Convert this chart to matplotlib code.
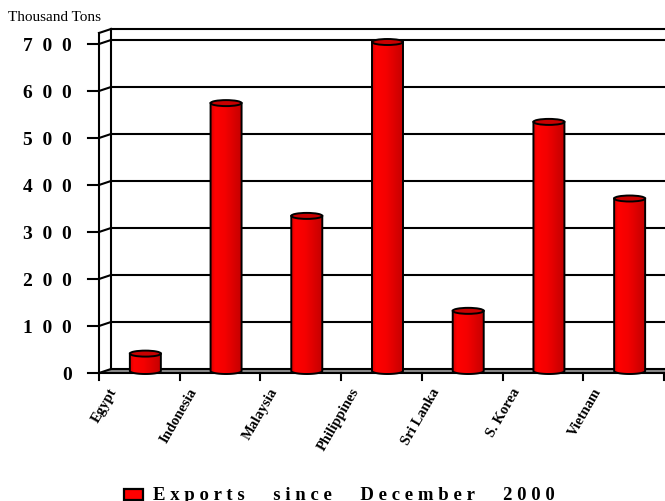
import numpy as np
import matplotlib
matplotlib.use("Agg")
import matplotlib.pyplot as plt
from matplotlib import transforms
from matplotlib.patches import Ellipse, PathPatch, Polygon, Rectangle
from matplotlib.path import Path
from matplotlib.colors import LinearSegmentedColormap

# Data
countries = ["Egypt", "Indonesia", "Malaysia", "Philippines", "Sri Lanka", "S. Korea", "Vietnam"]
exports = [37, 570, 330, 700, 128, 530, 367]
y_ticks = [0, 100, 200, 300, 400, 500, 600, 700]
y_tick_labels = ["0", "1  0  0", "2  0  0", "3  0  0", "4  0  0", "5  0  0", "6  0  0", "7  0  0"]
unit_label = "Thousand Tons"
series_label = "E x p o r t s      s i n c e      D e c e m b e r      2 0 0 0"

W, H, DPI = 665, 501, 100
SERIF = "Liberation Serif"
Y_MAX = 723.4

fig = plt.figure(figsize=(W / DPI, H / DPI), dpi=DPI)
fig.patch.set_facecolor("white")
ax = fig.add_axes([99 / W, 128 / H, 565 / W, 340 / H])
ax.set_xlim(0, len(countries))
ax.set_ylim(0, Y_MAX)
ax.axis("off")

# pixel -> data unit conversions for the 3-D depth effect
px_x = ax.transData.transform((1, 0))[0] - ax.transData.transform((0, 0))[0]
px_y = ax.transData.transform((0, 1))[1] - ax.transData.transform((0, 0))[1]
ddx, ddy = 12 / px_x, 4 / px_y
n = len(countries)

LW = 1.5
kw = dict(color="black", lw=LW, clip_on=False, solid_capstyle="projecting")

# floor
ax.add_patch(Polygon([(0, 0), (n, 0), (n + ddx, ddy), (ddx, ddy)], closed=True,
                     fc="#8c8c8c", ec="none", zorder=1, clip_on=False))

# back wall gridlines, top edge and left edge
for v in y_ticks + [Y_MAX]:
    ax.plot([ddx, n + ddx], [v + ddy, v + ddy], zorder=2, **kw)
ax.plot([ddx, ddx], [ddy, Y_MAX + ddy], zorder=2, **kw)

# side wall: front edge and connecting diagonals
ax.plot([0, 0], [0, Y_MAX], zorder=2, **kw)
for v in y_ticks + [Y_MAX]:
    ax.plot([0, ddx], [v, v + ddy], zorder=2, **kw)

# front category axis
ax.plot([0, n], [0, 0], zorder=2, **kw)

# y ticks and labels
tick_len = 11 / px_x
for v in y_ticks:
    ax.plot([-tick_len, 0], [v, v], zorder=2, **kw)
lab_tr = transforms.offset_copy(ax.transData, fig=fig, x=-27, y=-3, units="dots")
for v, lab in zip(y_ticks, y_tick_labels):
    ax.text(0, v, lab, transform=lab_tr, ha="right", va="center",
            fontsize=14, fontweight="bold", family=SERIF)

# x ticks
xtick_len = 7 / px_y
for i in range(n + 1):
    ax.plot([i, i], [0, -xtick_len], zorder=2, **kw)

# category labels
cat_tr = transforms.offset_copy(ax.transData, fig=fig, x=-20, y=-13, units="dots")
for i, name in enumerate(countries):
    ax.text(i + 0.5, 0, name, transform=cat_tr, rotation=60, ha="right", va="top",
            fontsize=10.5, fontweight="bold", family=SERIF)

# cylinders
cmap = LinearSegmentedColormap.from_list(
    "cyl", [(0.0, "#d80000"), (0.12, "#ff0000"), (0.45, "#f40000"), (1.0, "#c40000")])
grad = np.linspace(0, 1, 64)[np.newaxis, :]
bw = 31 / px_x
eh = 6 / px_y
t = np.linspace(np.pi, 2 * np.pi, 40)
for i, v in enumerate(exports):
    c = i + 0.5 + ddx / 2
    base = ddy / 2
    xs = c + bw / 2 * np.cos(t)
    ys = base + eh / 2 * np.sin(t)
    verts = list(zip(xs, ys)) + [(c + bw / 2, base + v), (c - bw / 2, base + v), (xs[0], ys[0])]
    path = Path(verts, [Path.MOVETO] + [Path.LINETO] * (len(verts) - 2) + [Path.CLOSEPOLY])
    body = PathPatch(path, fc="none", ec="black", lw=1.4, zorder=5, clip_on=False)
    ax.add_patch(body)
    im = ax.imshow(grad, cmap=cmap, extent=[c - bw / 2, c + bw / 2, base - eh, base + v],
                   aspect="auto", zorder=4, interpolation="bilinear")
    im.set_clip_path(body)
    ax.add_patch(Ellipse((c, base + v), bw, eh, fc="#c80000", ec="black", lw=1.4,
                         zorder=6, clip_on=False))

ax.set_xlim(0, n)
ax.set_ylim(0, Y_MAX)

# unit label
fig.text(8 / W, 1 - 21 / H, unit_label, ha="left", va="baseline",
         fontsize=11, family=SERIF)

# legend
fig.add_artist(Rectangle((124 / W, 1.5 / H), 19 / W, 10.5 / H, transform=fig.transFigure,
                         fc="red", ec="black", lw=1.6))
fig.text(153 / W, 1 / H, series_label, ha="left", va="baseline",
         fontsize=13.5, fontweight="bold", family=SERIF)

fig.savefig("out.png", dpi=DPI)
